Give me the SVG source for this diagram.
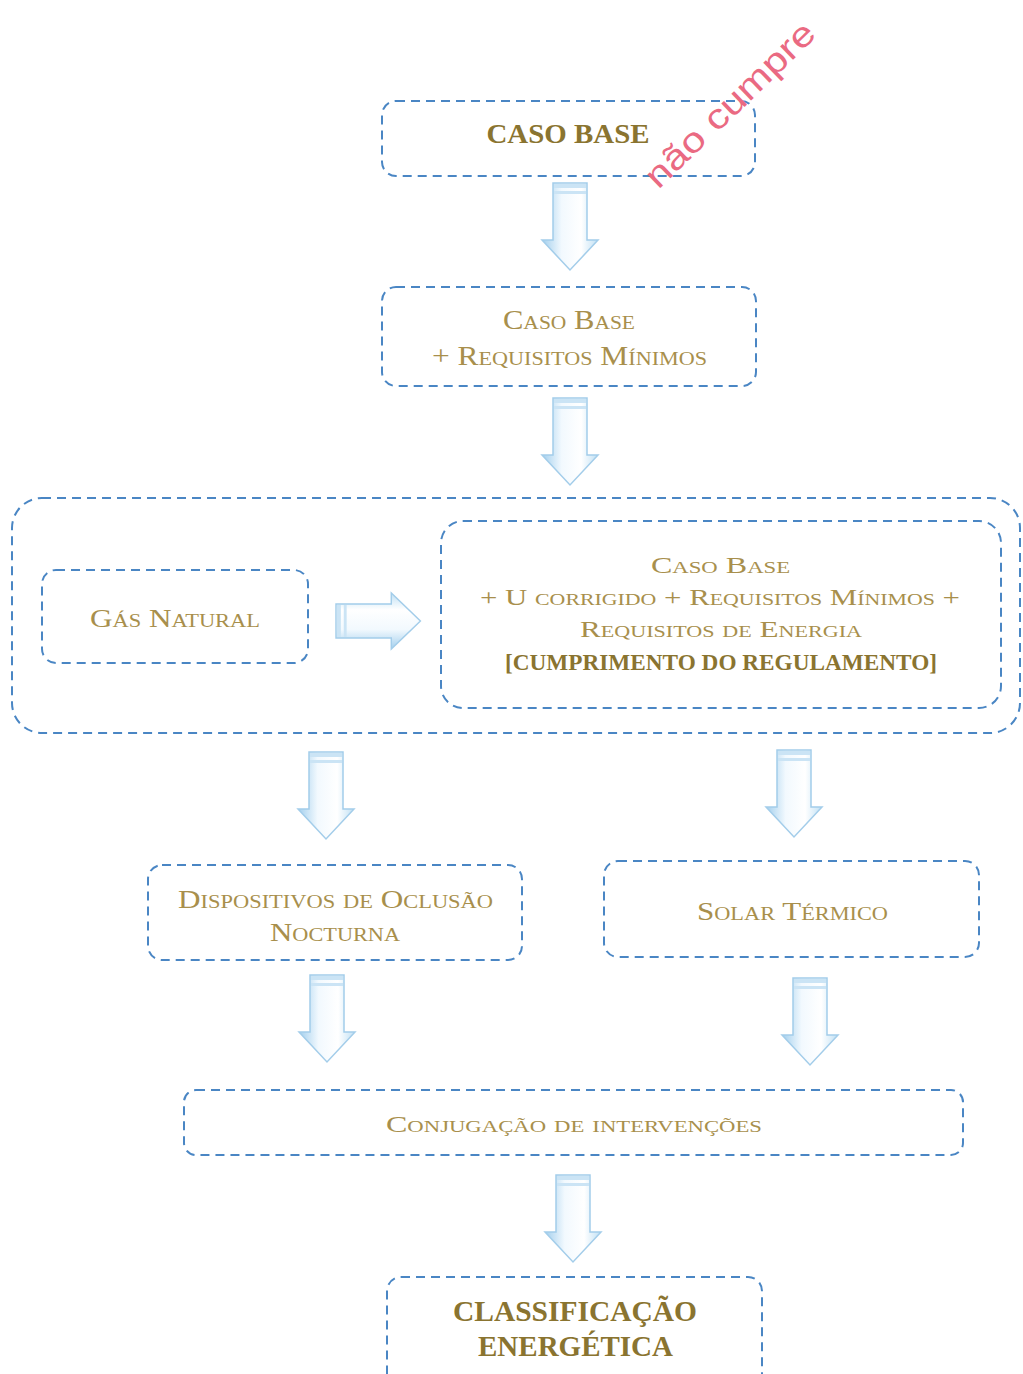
<svg xmlns="http://www.w3.org/2000/svg" width="1023" height="1374" viewBox="0 0 1023 1374">
<defs>
<style>
.box{fill:none;stroke:#4a86c4;stroke-width:2;stroke-dasharray:9 6;}
.sc{font-family:"Liberation Serif","Times New Roman",serif;font-variant:small-caps;fill:#a88f4c;text-anchor:middle;}
.bd{font-family:"Liberation Serif","Times New Roman",serif;font-weight:bold;fill:#8a7430;text-anchor:middle;}
.arr{fill:url(#ag);stroke:#a3cdea;stroke-width:1.5;}
.band{fill:#cbe4f5;}
</style>
<linearGradient id="ag" x1="0" y1="0" x2="1" y2="0">
<stop offset="0" stop-color="#a3cfed"/>
<stop offset="0.35" stop-color="#f2f9fe"/>
<stop offset="0.7" stop-color="#ffffff"/>
<stop offset="1" stop-color="#c0e0f4"/>
</linearGradient>
<g id="down">
<path class="arr" d="M-17 0 H17 V57 H28 L0 87 L-28 57 H-17 Z"/>
<rect class="band" x="-16" y="1" width="32" height="4"/>
<rect class="band" x="-16" y="8" width="32" height="3"/>
</g>
</defs>
<rect width="1023" height="1374" fill="#ffffff"/>

<g id="connectors">
<use href="#down" transform="translate(570,183)"/>
<use href="#down" transform="translate(570,398)"/>
<use href="#down" transform="translate(336,621) rotate(-90) scale(1,0.97)"/>
<use href="#down" transform="translate(326,752)"/>
<use href="#down" transform="translate(794,750)"/>
<use href="#down" transform="translate(327,975)"/>
<use href="#down" transform="translate(810,978)"/>
<use href="#down" transform="translate(573,1175)"/>
</g>

<g id="caso-base">
<rect class="box" x="382" y="101" width="373" height="75" rx="14"/>
<text class="bd" x="568" y="143" font-size="27" textLength="163" lengthAdjust="spacingAndGlyphs">CASO BASE</text>
</g>

<g id="requisitos-minimos">
<rect class="box" x="382" y="287" width="374" height="99" rx="14"/>
<text class="sc" x="569" y="329" font-size="27" textLength="132" lengthAdjust="spacingAndGlyphs">Caso Base</text>
<text class="sc" x="569.5" y="365" font-size="27" textLength="275" lengthAdjust="spacingAndGlyphs">+ Requisitos Mínimos</text>
</g>

<g id="grupo-regulamento">
<rect class="box" x="12" y="498" width="1008" height="235" rx="30"/>
</g>

<g id="gas-natural">
<rect class="box" x="42" y="570" width="266" height="93" rx="14"/>
<text class="sc" x="175" y="627" font-size="25" textLength="170" lengthAdjust="spacingAndGlyphs">Gás Natural</text>
</g>

<g id="cumprimento">
<rect class="box" x="441" y="521" width="560" height="187" rx="22"/>
<text class="sc" x="720.5" y="573" font-size="24" textLength="139" lengthAdjust="spacingAndGlyphs">Caso Base</text>
<text class="sc" x="720" y="605" font-size="24" textLength="480" lengthAdjust="spacingAndGlyphs">+ U corrigido + Requisitos Mínimos +</text>
<text class="sc" x="721" y="637" font-size="24" textLength="282" lengthAdjust="spacingAndGlyphs">Requisitos de Energia</text>
<text class="bd" x="721" y="670" font-size="23" textLength="432" lengthAdjust="spacingAndGlyphs">[CUMPRIMENTO DO REGULAMENTO]</text>
</g>

<g id="dispositivos">
<rect class="box" x="148" y="865" width="374" height="95" rx="14"/>
<text class="sc" x="335.5" y="908" font-size="25" textLength="315" lengthAdjust="spacingAndGlyphs">Dispositivos de Oclusão</text>
<text class="sc" x="335" y="941" font-size="25" textLength="130" lengthAdjust="spacingAndGlyphs">Nocturna</text>
</g>

<g id="solar-termico">
<rect class="box" x="604" y="861" width="375" height="96" rx="14"/>
<text class="sc" x="792.5" y="920" font-size="25" textLength="191" lengthAdjust="spacingAndGlyphs">Solar Térmico</text>
</g>

<g id="conjugacao">
<rect class="box" x="184" y="1090" width="779" height="65" rx="12"/>
<text class="sc" x="574" y="1132" font-size="24" textLength="376" lengthAdjust="spacingAndGlyphs">Conjugação de intervenções</text>
</g>

<g id="classificacao">
<rect class="box" x="387" y="1277" width="375" height="125" rx="14"/>
<text class="bd" x="575" y="1321" font-size="29" textLength="244" lengthAdjust="spacingAndGlyphs">CLASSIFICAÇÃO</text>
<text class="bd" x="575.5" y="1356" font-size="29" textLength="195" lengthAdjust="spacingAndGlyphs">ENERGÉTICA</text>
</g>

<g id="nao-cumpre">
<text x="0" y="0" transform="translate(738,113) rotate(-44)" font-family="'Liberation Sans','DejaVu Sans',sans-serif" font-size="35" fill="#ea6a82" text-anchor="middle" textLength="222" lengthAdjust="spacingAndGlyphs">não cumpre</text>
</g>
</svg>
